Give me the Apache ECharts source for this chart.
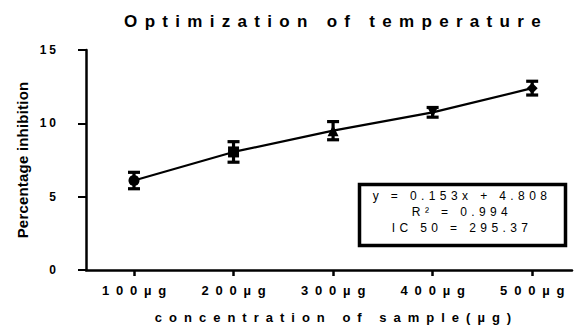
<!DOCTYPE html>
<html>
<head>
<meta charset="utf-8">
<script src="https://cdn.jsdelivr.net/npm/echarts@6/dist/echarts.min.js"></script>
<style>
  html, body { margin: 0; padding: 0; background: #fff; }
  #chart { width: 580px; height: 327px; }
</style>
</head>
<body>
<div id="chart"></div>
<script>
// ---- data ----
const titleText = 'Optimization of temperature';
const xName = 'concentration of sample(µg)';
const yName = 'Percentage inhibition';
const categories = ['100µg', '200µg', '300µg', '400µg', '500µg'];
const xPositions = [1, 2, 3, 4, 5];
const means = [6.1, 8.05, 9.5, 10.75, 12.4];
const errors = [0.56, 0.7, 0.62, 0.33, 0.47];
const symbols = ['circle', 'rect', 'triangle', 'triangle', 'diamond'];
const symbolRotations = [0, 0, 0, 180, 0];
const boxLines = ['y = 0.153x + 4.808', 'R² = 0.994', 'IC 50 = 295.37'];

const FONT = 'Arial, "Liberation Sans", sans-serif';

const lineData = xPositions.map((x, i) => ({
  value: [x, means[i]],
  symbol: symbols[i],
  symbolRotate: symbolRotations[i]
}));
const errData = xPositions.map((x, i) => [x, means[i] - errors[i], means[i] + errors[i]]);

const chart = echarts.init(document.getElementById('chart'), null, { renderer: 'svg', width: 580, height: 327 });

const option = {
  animation: false,
  backgroundColor: '#ffffff',
  grid: { left: 86, right: 8, top: 50, bottom: 57, containLabel: false, outerBoundsMode: 'none' },
  xAxis: {
    type: 'value',
    min: 0.518,
    max: 5.4,
    splitLine: { show: false },
    axisLine: { show: true, onZero: false, lineStyle: { color: '#000', width: 2.5 } },
    axisTick: { show: true, length: 6, lineStyle: { color: '#000', width: 2.5 }, customValues: xPositions },
    axisLabel: {
      customValues: xPositions,
      formatter: (v) => categories[xPositions.indexOf(Math.round(v))] || '',
      color: '#000', fontFamily: FONT, fontWeight: 'bold', fontSize: 13, margin: 14,
      padding: [0, 0, 0, 7]
    },
    name: xName,
    nameLocation: 'middle',
    nameGap: 41,
    nameTextStyle: { color: '#000', fontFamily: FONT, fontWeight: 'bold', fontSize: 13, padding: [0, 0, 0, 15] }
  },
  yAxis: {
    type: 'value',
    min: 0,
    max: 15,
    interval: 5,
    splitLine: { show: false },
    axisLine: { show: true, lineStyle: { color: '#000', width: 2.5 } },
    axisTick: { show: true, length: 8, lineStyle: { color: '#000', width: 2 } },
    axisLabel: { color: '#000', fontFamily: FONT, fontWeight: 'bold', fontSize: 12, margin: 27 },
    name: yName,
    nameLocation: 'middle',
    nameGap: 56,
    nameRotate: 90,
    nameTextStyle: { color: '#000', fontFamily: FONT, fontWeight: 'bold', fontSize: 15 }
  },
  series: [
    {
      type: 'custom',
      name: 'error',
      data: errData,
      z: 3,
      renderItem: function (params, api) {
        const x = api.value(0);
        const lo = api.coord([x, api.value(1)]);
        const hi = api.coord([x, api.value(2)]);
        const half = 6;
        const st = { stroke: '#000', lineWidth: 3.2 };
        return {
          type: 'group',
          children: [
            { type: 'line', shape: { x1: lo[0], y1: lo[1], x2: hi[0], y2: hi[1] }, style: st },
            { type: 'line', shape: { x1: lo[0] - half, y1: lo[1], x2: lo[0] + half, y2: lo[1] }, style: st },
            { type: 'line', shape: { x1: hi[0] - half, y1: hi[1], x2: hi[0] + half, y2: hi[1] }, style: st }
          ]
        };
      }
    },
    {
      type: 'line',
      name: 'mean',
      data: lineData,
      symbolSize: 11,
      z: 4,
      lineStyle: { color: '#000', width: 2.2 },
      itemStyle: { color: '#000', borderWidth: 0 }
    }
  ],
  graphic: [
    {
      type: 'text', x: 336, y: 21,
      style: { text: titleText, textAlign: 'center', textVerticalAlign: 'middle', fill: '#000', font: 'bold 17px ' + FONT }
    },
    {
      type: 'rect',
      shape: { x: 359.5, y: 184.5, width: 206, height: 61 },
      style: { fill: '#fff', stroke: '#000', lineWidth: 3.5 },
      z: 10
    },
    {
      type: 'text', x: 462, y: 196, z: 11,
      style: { text: boxLines[0], textAlign: 'center', textVerticalAlign: 'middle', fill: '#000', font: '12px ' + FONT }
    },
    {
      type: 'text', x: 462, y: 212, z: 11,
      style: { text: boxLines[1], textAlign: 'center', textVerticalAlign: 'middle', fill: '#000', font: '12px ' + FONT }
    },
    {
      type: 'text', x: 462, y: 228, z: 11,
      style: { text: boxLines[2], textAlign: 'center', textVerticalAlign: 'middle', fill: '#000', font: '12px ' + FONT }
    }
  ]
};

chart.setOption(option);

function spacingFor(s) {
  if (s === titleText) return 7.3;
  if (s === xName) return 7;
  if (s === yName) return 0.2;
  if (categories.indexOf(s) >= 0) return 6.8;
  if (boxLines.indexOf(s) >= 0) return 4.4;
  if (/^\d+$/.test(s)) return 3;
  return 0;
}
function applySpacing() {
  document.querySelectorAll('#chart text').forEach(function (t) {
    const ls = spacingFor(t.textContent.trim());
    if (ls) t.style.letterSpacing = ls + 'px';
  });
}
chart.on('finished', applySpacing);
applySpacing();
setTimeout(applySpacing, 0);
requestAnimationFrame(applySpacing);
</script>
</body>
</html>
